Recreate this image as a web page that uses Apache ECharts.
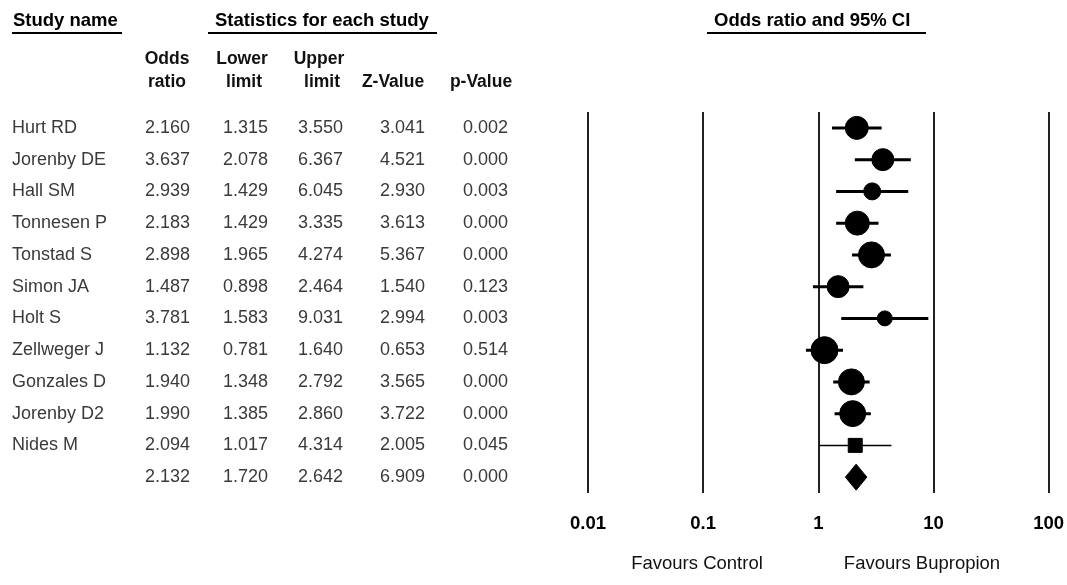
<!DOCTYPE html>
<html>
<head>
<meta charset="utf-8">
<script src="https://cdn.jsdelivr.net/npm/echarts@6/dist/echarts.min.js"></script>
<style>html,body{margin:0;padding:0;background:#fff}#c{width:1067px;height:585px}</style>
</head>
<body>
<div id="c"></div>
<script>
// ---- data ----
const studies = ['Hurt RD','Jorenby DE','Hall SM','Tonnesen P','Tonstad S','Simon JA','Holt S','Zellweger J','Gonzales D','Jorenby D2','Nides M',''];
const oddsRatio  = [2.160, 3.637, 2.939, 2.183, 2.898, 1.487, 3.781, 1.132, 1.940, 1.990, 2.094, 2.132];
const lowerLimit = [1.315, 2.078, 1.429, 1.429, 1.965, 0.898, 1.583, 0.781, 1.348, 1.385, 1.017, 1.720];
const upperLimit = [3.550, 6.367, 6.045, 3.335, 4.274, 2.464, 9.031, 1.640, 2.792, 2.860, 4.314, 2.642];
const zValue     = [3.041, 4.521, 2.930, 3.613, 5.367, 1.540, 2.994, 0.653, 3.565, 3.722, 2.005, 6.909];
const pValue     = [0.002, 0.000, 0.003, 0.000, 0.000, 0.123, 0.003, 0.514, 0.000, 0.000, 0.045, 0.000];
const xTicks = [0.01, 0.1, 1, 10, 100];

// ---- styles ----
const markerDiam = [23, 22, 17, 24, 26, 22, 15, 27, 26, 26, 14, 26];
const markerShape = ['circle','circle','circle','circle','circle','circle','circle','circle','circle','circle','square','diamond'];
const ciWidth = [3,3,3,3,3,3,3,3,3,3,1.5,0];
const FONT = "'Liberation Sans', Arial, sans-serif";
const GRID_LEFT = 588;
const rowIdx = studies.map((s, i) => String(i));

const chart = echarts.init(document.getElementById('c'), null, {renderer: 'canvas'});

function fmt3(v) { return v.toFixed(3); }

// table columns rendered as category-axis labels
const columns = [
  {vals: studies, edge: 12, align: 'left'},
  {vals: oddsRatio.map(fmt3), edge: 190, align: 'right'},
  {vals: lowerLimit.map(fmt3), edge: 268, align: 'right'},
  {vals: upperLimit.map(fmt3), edge: 343, align: 'right'},
  {vals: zValue.map(fmt3), edge: 425, align: 'right'},
  {vals: pValue.map(fmt3), edge: 508, align: 'right'}
];

const yAxes = [{
  type: 'category', data: rowIdx, inverse: true, gridIndex: 0,
  axisLine: {show: false}, axisTick: {show: false}, axisLabel: {show: false}, splitLine: {show: false}
}];
columns.forEach(col => {
  yAxes.push({
    type: 'category', data: rowIdx, inverse: true, gridIndex: 0, position: 'left',
    offset: GRID_LEFT - col.edge,
    axisLine: {show: false}, axisTick: {show: false}, splitLine: {show: false},
    axisLabel: {
      show: true, margin: 0, align: col.align, interval: 0,
      formatter: (v, i) => col.vals[i],
      fontFamily: FONT, fontSize: 18, color: '#3a3a3a'
    }
  });
});

function hdr(text, x, y) {
  return {
    type: 'text', x: x, y: y,
    style: {text: text, fontFamily: FONT, fontSize: 18.5, fontWeight: 'bold', fill: '#000',
            textAlign: 'left', textVerticalAlign: 'middle'}
  };
}
function colHdr(text, x, y) {
  return {type: 'text', x: x, y: y,
    style: {text: text, fontFamily: FONT, fontSize: 17.5, fontWeight: 'bold', fill: '#111',
            textAlign: 'center', textVerticalAlign: 'middle'}};
}
function uline(x1, x2, y) {
  return {type: 'line', shape: {x1: x1, y1: y, x2: x2, y2: y}, style: {stroke: '#000', lineWidth: 2}};
}
function foot(text, x) {
  return {type: 'text', x: x, y: 564,
    style: {text: text, fontFamily: FONT, fontSize: 18.5, fill: '#111', textAlign: 'center', textVerticalAlign: 'middle'}};
}

const option = {
  animation: false,
  backgroundColor: '#fff',
  grid: {left: GRID_LEFT, right: 17, top: 112, bottom: 92, containLabel: false},
  xAxis: {
    type: 'log', logBase: 10, min: xTicks[0], max: xTicks[xTicks.length - 1],
    axisLine: {show: false}, axisTick: {show: false},
    splitLine: {show: true, showMinLine: true, showMaxLine: true, lineStyle: {color: '#222', width: 2}},
    axisLabel: {
      margin: 21, fontFamily: FONT, fontSize: 18.5, fontWeight: 'bold', color: '#000',
      formatter: v => String(v)
    }
  },
  yAxis: yAxes,
  graphic: [
    hdr('Study name', 13, 21),
    uline(12, 122, 33),
    hdr('Statistics for each study', 215, 21),
    uline(208, 437, 33),
    hdr('Odds ratio and 95% CI', 714, 21),
    uline(707, 926, 33),
    colHdr('Odds', 167, 59), colHdr('ratio', 167, 82),
    colHdr('Lower', 242, 59), colHdr('limit', 244, 82),
    colHdr('Upper', 319, 59), colHdr('limit', 322, 82),
    colHdr('Z-Value', 393, 82),
    colHdr('p-Value', 481, 82),
    foot('Favours Control', 697),
    foot('Favours Bupropion', 922)
  ],
  series: [{
    type: 'custom',
    coordinateSystem: 'cartesian2d',
    xAxisIndex: 0, yAxisIndex: 0,
    clip: false,
    data: oddsRatio.map((v, i) => [v, lowerLimit[i], upperLimit[i], i]),
    encode: {x: [0, 1, 2], y: 3},
    renderItem: function (params, api) {
      const row = api.value(3);
      const c = api.coord([api.value(0), row]);
      const lo = api.coord([api.value(1), row]);
      const hi = api.coord([api.value(2), row]);
      const d = markerDiam[row];
      const shape = markerShape[row];
      const style = {fill: '#000', stroke: '#000'};
      if (shape === 'diamond') {
        return {type: 'polygon', shape: {points: [[lo[0], c[1]], [c[0], c[1] - d / 2], [hi[0], c[1]], [c[0], c[1] + d / 2]]}, style: style};
      }
      const children = [{
        type: 'line', shape: {x1: lo[0], y1: c[1], x2: hi[0], y2: c[1]},
        style: {stroke: '#000', lineWidth: ciWidth[row]}
      }];
      if (shape === 'square') {
        children.push({type: 'rect', shape: {x: c[0] - d / 2, y: c[1] - d / 2, width: d, height: d}, style: style});
      } else {
        children.push({type: 'circle', shape: {cx: c[0], cy: c[1], r: d / 2}, style: style});
      }
      return {type: 'group', children: children};
    }
  }]
};
chart.setOption(option);
</script>
</body>
</html>
